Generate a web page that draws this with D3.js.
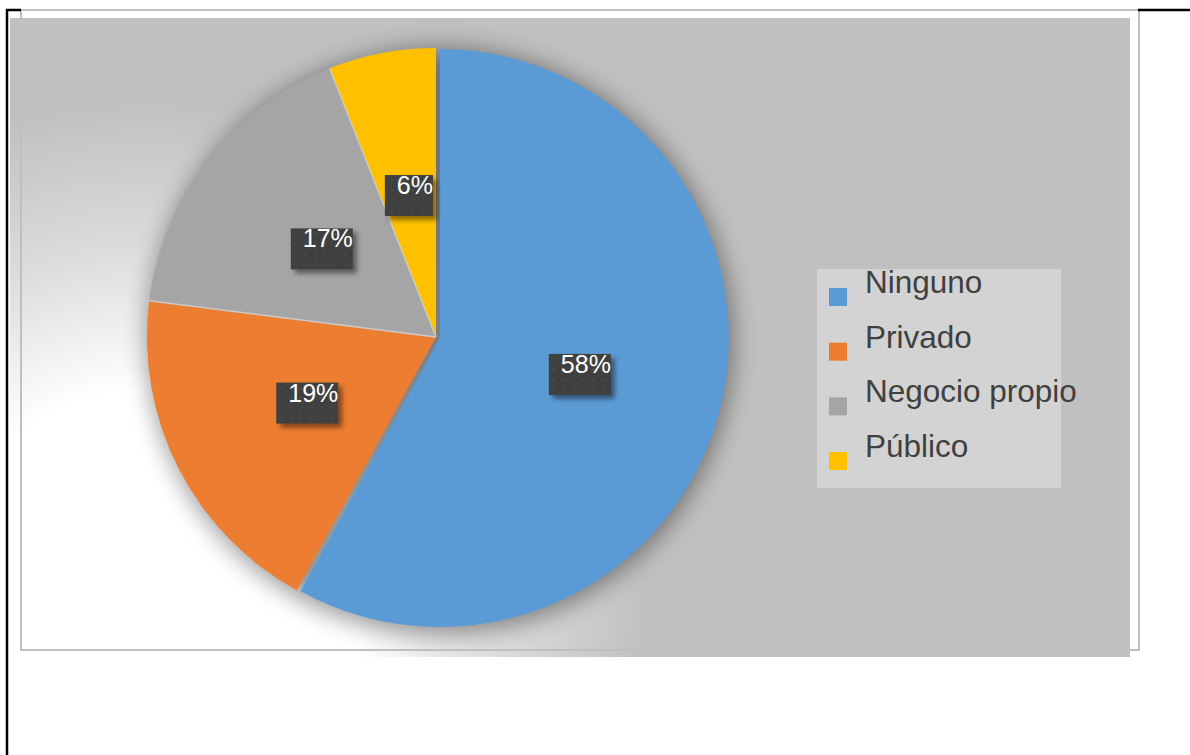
<!DOCTYPE html>
<html>
<head>
<meta charset="utf-8">
<script src="https://cdn.jsdelivr.net/npm/d3@7"></script>
<style>
  body { margin: 0; background: #fff; }
  svg { display: block; }
</style>
</head>
<body>
<script>
// chart data
const categories = ["Ninguno", "Privado", "Negocio propio", "Público"];
const values = [58, 19, 17, 6];
const sliceColors = ["#5B9BD5", "#ED7D31", "#A5A5A5", "#FFC000"];

const width = 1190;
const height = 755;
const plot = { x: 10, y: 18, w: 1120, h: 639 };
const center = { x: 436, y: 337 };
const radius = 289;

const svg = d3.select("body")
  .append("svg")
  .attr("width", width)
  .attr("height", height);

const defs = svg.append("defs");

// white glow toward the lower left of the plot
const glow = defs.append("radialGradient")
  .attr("id", "glow")
  .attr("gradientUnits", "userSpaceOnUse")
  .attr("cx", 150).attr("cy", 600).attr("r", 500);
glow.append("stop").attr("offset", 0).attr("stop-color", "#fff").attr("stop-opacity", 1);
glow.append("stop").attr("offset", 0.42).attr("stop-color", "#fff").attr("stop-opacity", 1);
glow.append("stop").attr("offset", 0.7).attr("stop-color", "#fff").attr("stop-opacity", 0.45);
glow.append("stop").attr("offset", 1).attr("stop-color", "#fff").attr("stop-opacity", 0);

defs.append("clipPath").attr("id", "plotClip")
  .append("rect")
  .attr("x", plot.x).attr("y", plot.y)
  .attr("width", plot.w).attr("height", plot.h);

defs.append("filter").attr("id", "pieShadow")
  .attr("x", "-20%").attr("y", "-20%").attr("width", "140%").attr("height", "140%")
  .append("feGaussianBlur").attr("stdDeviation", 12);

const boxShadow = defs.append("filter").attr("id", "boxShadow")
  .attr("x", "-30%").attr("y", "-30%").attr("width", "160%").attr("height", "160%");
boxShadow.append("feDropShadow")
  .attr("dx", 4).attr("dy", 4).attr("stdDeviation", 2.5)
  .attr("flood-color", "#000").attr("flood-opacity", 0.45);

// faint texture inside the label boxes
const tex = defs.append("pattern")
  .attr("id", "tex")
  .attr("patternUnits", "userSpaceOnUse")
  .attr("width", 10).attr("height", 10);
tex.append("rect").attr("width", 10).attr("height", 10).attr("fill", "#404040");
tex.append("path").attr("d", "M2,7 L5,4").attr("stroke", "#4c4c4c").attr("stroke-width", 1.2);

// plot area background
const bg = svg.append("g").attr("clip-path", "url(#plotClip)");
bg.append("rect")
  .attr("x", plot.x).attr("y", plot.y)
  .attr("width", plot.w).attr("height", plot.h)
  .attr("fill", "#c0c0c0");
bg.append("rect")
  .attr("x", plot.x).attr("y", plot.y)
  .attr("width", plot.w).attr("height", plot.h)
  .attr("fill", "url(#glow)");
bg.append("circle")
  .attr("cx", center.x + 4).attr("cy", center.y + 4)
  .attr("r", radius + 4)
  .attr("fill", "#000")
  .attr("opacity", 0.4)
  .attr("filter", "url(#pieShadow)");

// pie
const color = d3.scaleOrdinal().domain(categories).range(sliceColors);
const pie = d3.pie().sort(null).value(d => d.value);
const arcs = pie(categories.map((c, i) => ({ name: c, value: values[i] })));
const arc = d3.arc().innerRadius(0).outerRadius(radius);

const g = svg.append("g")
  .attr("transform", `translate(${center.x}, ${center.y})`);

// the largest slice sits a few pixels out from the rest
function offset(d, i) {
  if (i !== 0) return [0, 0];
  const a = (d.startAngle + d.endAngle) / 2;
  return [4 * Math.sin(a), -4 * Math.cos(a)];
}

g.selectAll("path.slice")
  .data(arcs)
  .enter()
  .append("path")
  .attr("class", "slice")
  .attr("d", arc)
  .attr("transform", (d, i) => `translate(${offset(d, i)})`)
  .attr("fill", d => color(d.data.name));

// thin light edges between the slices that are not pulled out
g.selectAll("line.sep")
  .data(arcs.filter((d, i) => i === 2 || i === 3))
  .enter()
  .append("line")
  .attr("class", "sep")
  .attr("x1", 0).attr("y1", 0)
  .attr("x2", d => radius * Math.sin(d.startAngle))
  .attr("y2", d => -radius * Math.cos(d.startAngle))
  .attr("stroke", "#cbcbcb")
  .attr("stroke-width", 1.4);

// data labels
const labels = g.selectAll("g.label")
  .data(arcs)
  .enter()
  .append("g")
  .attr("class", "label")
  .attr("transform", (d, i) => {
    const [x, y] = arc.centroid(d);
    const [dx, dy] = offset(d, i);
    return `translate(${x + dx}, ${y + dy})`;
  });

labels.append("text")
  .attr("x", 6)
  .attr("y", -1)
  .attr("text-anchor", "middle")
  .attr("font-family", "'Liberation Sans', Arial, sans-serif")
  .attr("font-size", "25px")
  .attr("fill", "#fff")
  .text(d => d.data.value + "%");

labels.each(function() {
  const t = d3.select(this).select("text");
  const w = t.node().getComputedTextLength() + 12;
  d3.select(this).insert("rect", "text")
    .attr("x", -w / 2)
    .attr("y", -20)
    .attr("width", w)
    .attr("height", 41)
    .attr("fill", "url(#tex)")
    .attr("filter", "url(#boxShadow)");
});

// legend
const legend = svg.append("g");
legend.append("rect")
  .attr("x", 817).attr("y", 269)
  .attr("width", 244).attr("height", 219)
  .attr("fill", "#d3d3d3");

const ly = d3.scalePoint().domain(categories).range([288, 452]);

const items = legend.selectAll("g.item")
  .data(categories)
  .enter()
  .append("g")
  .attr("class", "item");

items.append("rect")
  .attr("x", 829)
  .attr("y", d => ly(d))
  .attr("width", 18)
  .attr("height", 18)
  .attr("fill", d => color(d));

items.append("text")
  .attr("x", 865)
  .attr("y", d => ly(d) + 5)
  .attr("font-family", "'Liberation Sans', Arial, sans-serif")
  .attr("font-size", "31.5px")
  .attr("fill", "#404040")
  .text(d => d);

// chart frame
svg.append("rect")
  .attr("x", 21).attr("y", 10)
  .attr("width", 1118).attr("height", 640)
  .attr("fill", "none")
  .attr("stroke", "#bfbfbf")
  .attr("stroke-width", 2);

// table cell borders of the page
svg.append("path")
  .attr("d", "M7,755 V10 H21 M1138,10 H1190")
  .attr("fill", "none")
  .attr("stroke", "#000")
  .attr("stroke-width", 2.5);
</script>
</body>
</html>
